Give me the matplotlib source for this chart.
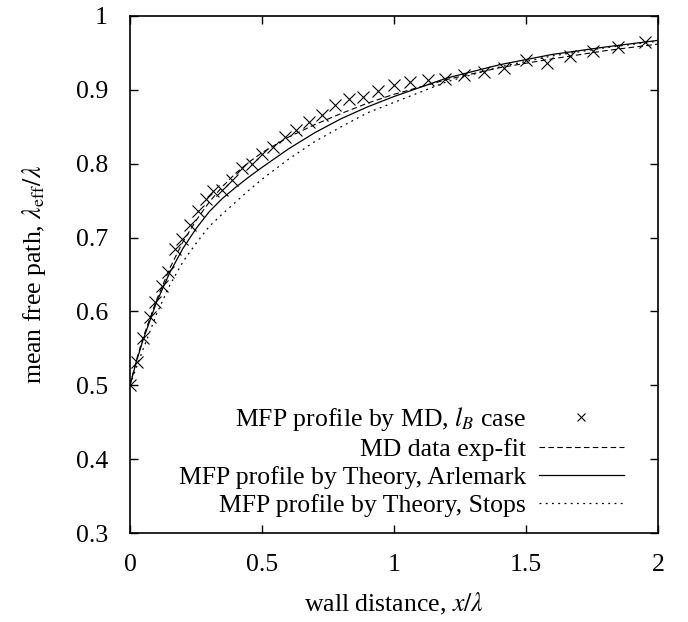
import matplotlib
matplotlib.use('Agg')
import matplotlib.pyplot as plt

# MD data points (x/lambda, lambda_eff/lambda)
md_x = [0.0, 0.028, 0.05, 0.076, 0.095, 0.12, 0.145, 0.17, 0.198, 0.227,
        0.259, 0.288, 0.316, 0.347, 0.385, 0.423, 0.461, 0.499, 0.543, 0.587,
        0.629, 0.679, 0.726, 0.777, 0.831, 0.884, 0.941, 1.001, 1.06, 1.13,
        1.193, 1.266, 1.342, 1.418, 1.499, 1.578, 1.667, 1.755, 1.85, 1.951]
md_y = [0.5, 0.532, 0.564, 0.593, 0.613, 0.634, 0.654, 0.685, 0.698, 0.717,
        0.736, 0.752, 0.763, 0.764, 0.778, 0.794, 0.8, 0.813, 0.823, 0.836,
        0.845, 0.856, 0.866, 0.879, 0.887, 0.89, 0.898, 0.907, 0.911, 0.913,
        0.915, 0.92, 0.924, 0.929, 0.941, 0.936, 0.946, 0.953, 0.958, 0.965]

# curves
curve_x = [0.0, 0.025, 0.05, 0.1, 0.15, 0.2, 0.25, 0.3, 0.35, 0.4, 0.45,
           0.5, 0.6, 0.7, 0.8, 0.9, 1.0, 1.2, 1.4, 1.6, 1.8, 2.0]
fit_y = [0.5, 0.535, 0.565, 0.615, 0.658, 0.694, 0.723, 0.748, 0.769, 0.787,
         0.802, 0.815, 0.836, 0.853, 0.868, 0.882, 0.894, 0.914, 0.930,
         0.942, 0.953, 0.962]
arlemark_y = [0.5, 0.533, 0.562, 0.612, 0.652, 0.685, 0.712, 0.735, 0.753,
              0.768, 0.782, 0.795, 0.82, 0.842, 0.861, 0.877, 0.891, 0.916,
              0.934, 0.948, 0.958, 0.967]
stops_y = [0.5, 0.525, 0.549, 0.596, 0.635, 0.667, 0.692, 0.715, 0.732,
           0.748, 0.764, 0.779, 0.806, 0.83, 0.85, 0.869, 0.883, 0.911,
           0.931, 0.946, 0.957, 0.966]

x_ticks = [0, 0.5, 1, 1.5, 2]
x_labels = ['0', '0.5', '1', '1.5', '2']
y_ticks = [0.3, 0.4, 0.5, 0.6, 0.7, 0.8, 0.9, 1.0]
y_labels = ['0.3', '0.4', '0.5', '0.6', '0.7', '0.8', '0.9', '1']

plt.rcParams['font.family'] = 'serif'
plt.rcParams['font.serif'] = ['Liberation Serif', 'DejaVu Serif']
plt.rcParams['mathtext.fontset'] = 'stix'
plt.rcParams['font.size'] = 18.5

fig = plt.figure(figsize=(6.88, 6.22), dpi=100)
ax = fig.add_axes([130 / 688, 1 - 533 / 622, 528 / 688, 517 / 622])

ax.plot(md_x, md_y, linestyle='none', marker='x', color='black',
        markersize=8, markeredgewidth=0.8,
        label=r'MFP profile by MD, $l_B$ case')
ax.plot(curve_x, fit_y, color='black', linewidth=0.8, dashes=(5, 3),
        label='MD data exp-fit')
ax.plot(curve_x, arlemark_y, color='black', linewidth=0.9,
        label='MFP profile by Theory, Arlemark')
ax.plot(curve_x, stops_y, color='black', linewidth=0.9, dashes=(1.5, 3.5),
        label='MFP profile by Theory, Stops')

ax.set_xlim(0, 2)
ax.set_ylim(0.3, 1)
ax.set_xticks(x_ticks)
ax.set_xticklabels(x_labels)
ax.set_yticks(y_ticks)
ax.set_yticklabels(y_labels)
ax.tick_params(direction='in', length=6, width=1, top=True, right=True)
ax.tick_params(axis='x', pad=15)
ax.tick_params(axis='y', pad=16)
for s in ax.spines.values():
    s.set_linewidth(1.2)

ax.set_xlabel(r'wall distance, $x/\lambda$', labelpad=11)
ax.set_ylabel(r'mean free path, $\lambda_{\rm eff}/\lambda$', labelpad=20)

ax.legend(loc='lower right', bbox_to_anchor=(0.935, 0.03), frameon=False,
          markerfirst=False, handlelength=3.3, handletextpad=0.5,
          labelspacing=0.2, borderpad=0, borderaxespad=0, numpoints=1,
          markerscale=0.7)

fig.savefig('out.png', dpi=100)
